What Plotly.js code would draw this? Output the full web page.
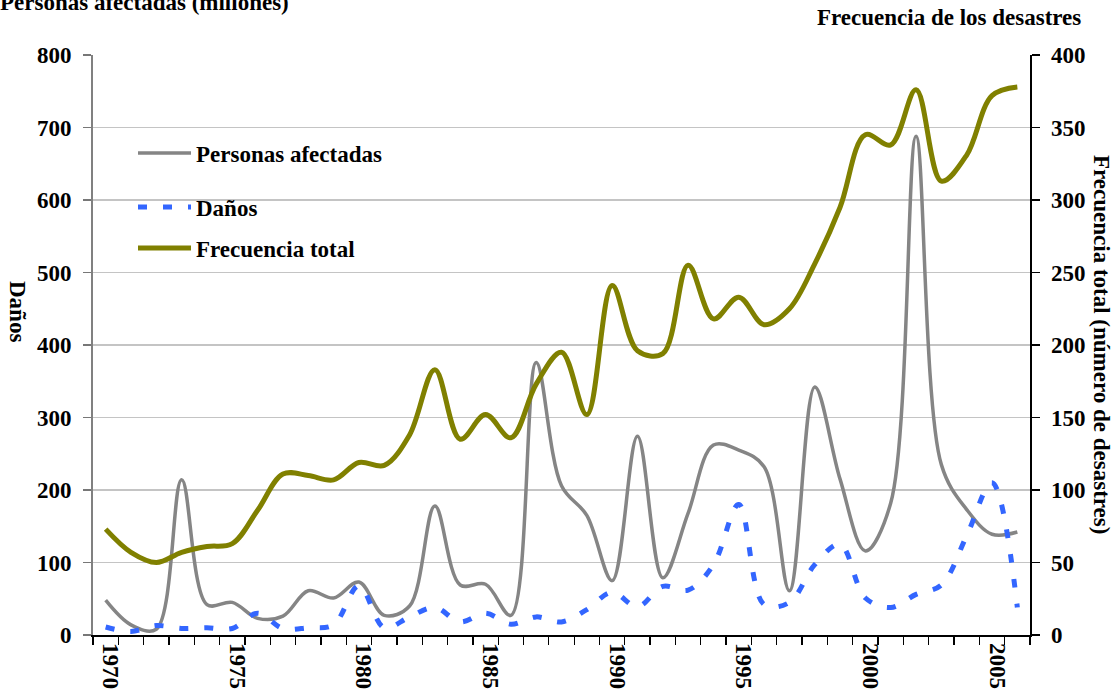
<!DOCTYPE html>
<html><head><meta charset="utf-8">
<script src="https://cdn.plot.ly/plotly-3.0.1.min.js"></script>
<style>html,body{margin:0;padding:0;background:#fff;overflow:hidden}#chart{width:1117px;height:689px;}</style>
</head><body><div id="chart"></div>
<script>
// ---- data ----
const years = [1970,1971,1972,1973,1974,1975,1976,1977,1978,1979,1980,1981,1982,1983,1984,1985,1986,1987,1988,1989,1990,1991,1992,1993,1994,1995,1996,1997,1998,1999,2000,2001,2002,2003,2004,2005,2006];
const personasAfectadas = [48,14,8,214,42,45,23,26,61,51,73,27,40,178,69,70,27,376,206,165,75,274,79,168,262,255,232,61,342,215,116,182,688,235,173,139,142];
const danos = [11,5,13,9,10,9,30,9,10,14,68,10,25,38,18,30,15,25,18,35,59,39,67,62,97,180,42,45,97,125,51,38,56,69,137,210,38];
const frecuenciaTotal = [73,57,50,57,61,63,86,111,110,107,119,117,138,183,135,152,136,173,195,152,241,196,194,255,218,233,214,225,256,295,345,338,376,313,331,372,378];
const yearLabels = [1970,1975,1980,1985,1990,1995,2000,2005];
const seriesNames = ['Personas afectadas','Daños','Frecuencia total'];

// ---- geometry helpers ----
const W = 1117, H = 689;
const M = {l:93, r:87, t:55, b:54};
const PW = W - M.l - M.r, PH = H - M.t - M.b;
const px = X => (X - M.l) / PW;
const py = Y => (H - M.b - Y) / PH;

const FONT = '"Liberation Serif", "Times New Roman", serif';
const f = (size, color) => ({family: FONT, size: size, color: color || '#000', weight: 700});

const traces = [
  {x: years, y: personasAfectadas, name: seriesNames[0], type: 'scatter', mode: 'lines',
   line: {color: '#858585', width: 3.5, shape: 'spline', smoothing: 1}, legend: 'legend'},
  {x: years, y: danos, name: seriesNames[1], type: 'scatter', mode: 'lines',
   line: {color: '#3366ff', width: 5, dash: '9px,16px', shape: 'spline', smoothing: 1}, legend: 'legend2'},
  {x: years, y: frecuenciaTotal, name: seriesNames[2], type: 'scatter', mode: 'lines', yaxis: 'y2',
   line: {color: '#808000', width: 5, shape: 'spline', smoothing: 1}, legend: 'legend3'}
];

const legendBase = {xanchor: 'left', yanchor: 'middle', font: f(23), itemwidth: 53,
  bgcolor: 'rgba(0,0,0,0)', borderwidth: 0, orientation: 'v'};

const layout = {
  width: W, height: H, margin: M,
  paper_bgcolor: '#fff', plot_bgcolor: '#fff',
  showlegend: true,
  legend: Object.assign({}, legendBase, {x: px(133), y: py(153)}),
  legend2: Object.assign({}, legendBase, {x: px(133), y: py(207)}),
  legend3: Object.assign({}, legendBase, {x: px(133), y: py(248)}),
  xaxis: {
    range: [1969.5, 2006.5], tickmode: 'array', tickvals: yearLabels, ticktext: yearLabels.map(String),
    tickangle: 90, tickfont: f(23), ticks: 'outside', ticklen: 2, tickcolor: 'rgba(0,0,0,0)',
    ticklabelshift: 5,
    showgrid: false, zeroline: false, showline: true, linecolor: '#000', linewidth: 1.5,
    minor: {tickmode: 'linear', tick0: 1969.5, dtick: 1, ticks: 'outside', ticklen: 8, tickwidth: 1.3, tickcolor: '#000', showgrid: false}
  },
  yaxis: {
    range: [0, 800], dtick: 100, tick0: 0, tickfont: f(23), ticks: 'outside', ticklen: 8,
    tickcolor: '#777', tickwidth: 1.3, ticklabelstandoff: 7,
    showgrid: true, gridcolor: '#c4c4c4', gridwidth: 1.5, zeroline: false,
    showline: true, linecolor: '#808080', linewidth: 2
  },
  yaxis2: {
    overlaying: 'y', side: 'right', range: [0, 400], dtick: 50, tick0: 0, tickfont: f(23),
    ticks: 'outside', ticklen: 8, tickcolor: '#000', tickwidth: 1.3, ticklabelstandoff: 7,
    showgrid: false, zeroline: false, showline: true, linecolor: '#000', linewidth: 1.5
  },
  annotations: [
    {text: 'Personas afectadas (millones)', xref: 'paper', yref: 'paper', x: px(-2), y: py(2),
     xanchor: 'left', yanchor: 'middle', showarrow: false, font: f(23)},
    {text: 'Frecuencia de los desastres', xref: 'paper', yref: 'paper', x: px(949), y: py(18),
     xanchor: 'center', yanchor: 'middle', showarrow: false, font: f(23)},
    {text: 'Daños', xref: 'paper', yref: 'paper', x: px(18), y: py(311), textangle: 90,
     xanchor: 'center', yanchor: 'middle', showarrow: false, font: f(23)},
    {text: 'Frecuencia total (número de desastres)', xref: 'paper', yref: 'paper', x: px(1102), y: py(344), textangle: 90,
     xanchor: 'center', yanchor: 'middle', showarrow: false, font: f(23)}
  ]
};

Plotly.newPlot('chart', traces, layout, {staticPlot: true, displayModeBar: false});
</script>
</body></html>
